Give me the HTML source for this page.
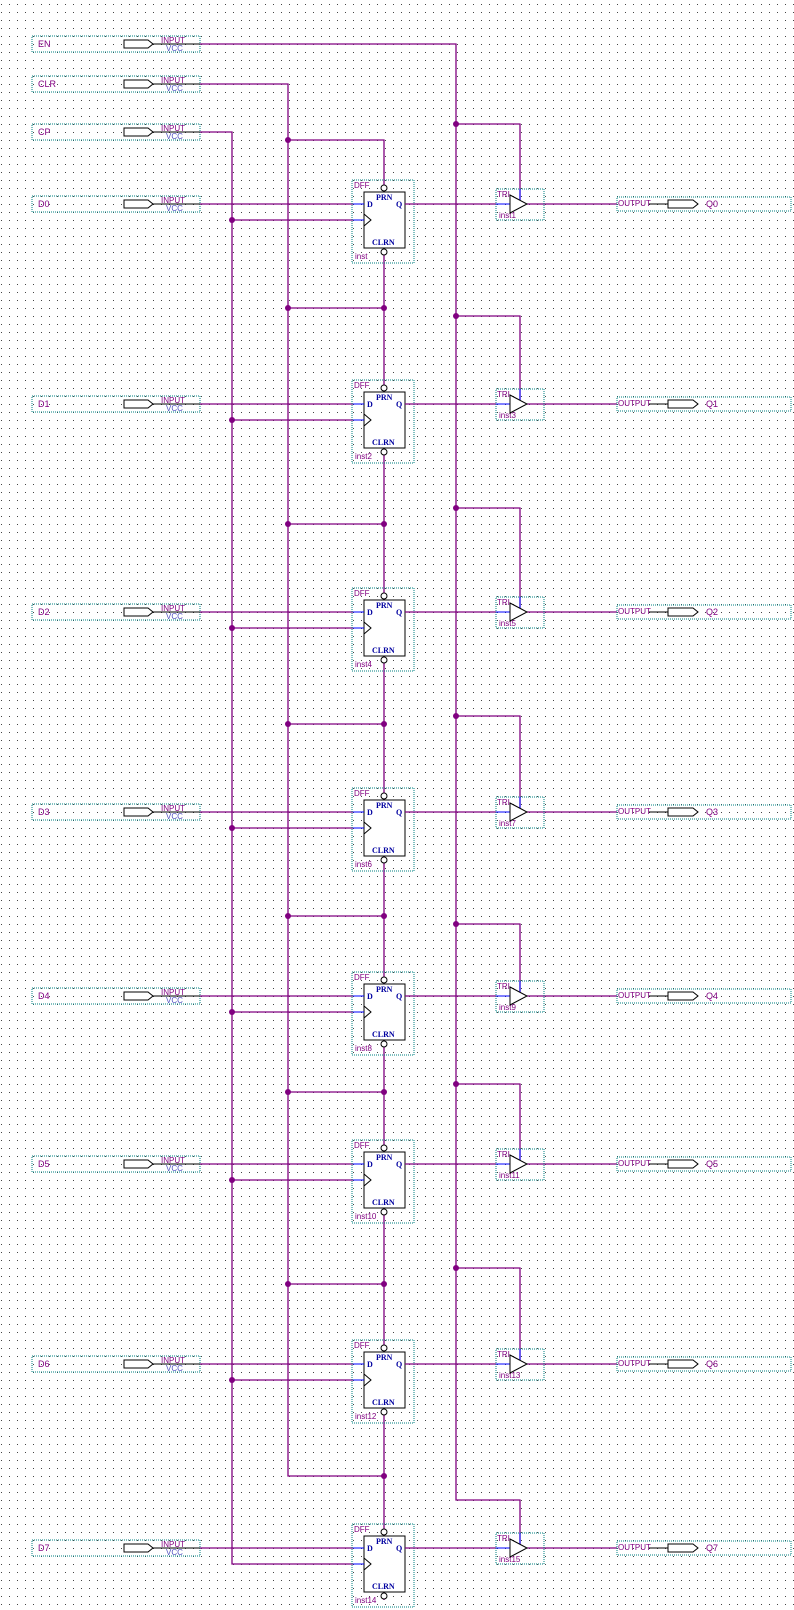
<!DOCTYPE html>
<html><head><meta charset="utf-8"><style>
html,body{margin:0;padding:0;background:#fff}
svg{display:block}
text{font-family:"Liberation Sans",sans-serif;font-size:8px}
.w{stroke:#800080;stroke-width:1.3;fill:none}
.b{stroke:#0000ff;stroke-width:1;fill:none}
.bx{stroke:#008080;stroke-width:1;stroke-dasharray:1,1;fill:none}
.k{stroke:#000;stroke-width:1;fill:#fff}
.p{fill:#800080}
.v{fill:#5050c0}
.lb{fill:#0000a0;font-family:"Liberation Serif",serif;font-weight:bold;font-size:8px}
.nm{fill:#800080;font-size:9px}
</style></head><body>
<svg width="794" height="1610" xmlns="http://www.w3.org/2000/svg">
<defs>
<pattern id="g" x="1" y="4" width="8" height="8" patternUnits="userSpaceOnUse"><rect x="0" y="0" width="1" height="1" fill="#444"/></pattern>
</defs>
<rect width="794" height="1610" fill="#fff"/>
<rect width="794" height="1610" fill="url(#g)"/>

<!-- control inputs -->
<g transform="translate(0,44)"><rect class="bx" x="32" y="-8" width="168" height="16"/><text class="nm" x="38" y="3">EN</text><polygon class="k" points="124,-4 148,-4 153,0 148,4 124,4"/><line x1="153" y1="0" x2="200" y2="0" stroke="#000"/><text class="p" x="161" y="-1">INPUT</text><text class="v" x="166" y="7">VCC</text></g>
<g transform="translate(0,84)"><rect class="bx" x="32" y="-8" width="168" height="16"/><text class="nm" x="38" y="3">CLR</text><polygon class="k" points="124,-4 148,-4 153,0 148,4 124,4"/><line x1="153" y1="0" x2="200" y2="0" stroke="#000"/><text class="p" x="161" y="-1">INPUT</text><text class="v" x="166" y="7">VCC</text></g>
<g transform="translate(0,132)"><rect class="bx" x="32" y="-8" width="168" height="16"/><text class="nm" x="38" y="3">CP</text><polygon class="k" points="124,-4 148,-4 153,0 148,4 124,4"/><line x1="153" y1="0" x2="200" y2="0" stroke="#000"/><text class="p" x="161" y="-1">INPUT</text><text class="v" x="166" y="7">VCC</text></g>

<!-- buses -->
<path class="w" d="M200,44 H456 V1500 H520 V1544"/>
<path class="w" d="M200,84 H288 V1476 H384"/>
<path class="w" d="M200,132 H232 V1564 H353"/>
<path class="w" d="M288,140 H384 V1600"/>
<!-- CLR rungs -->
<path class="w" d="M288,308H384M288,524H384M288,724H384M288,916H384M288,1092H384M288,1284H384"/>
<!-- EN rungs -->
<path class="w" d="M456,124H520V200M456,316H520V400M456,508H520V608M456,716H520V808M456,924H520V992M456,1084H520V1160M456,1268H520V1360"/>
<!-- clock rungs -->
<path class="w" d="M232,220H353M232,420H353M232,628H353M232,828H353M232,1012H353M232,1180H353M232,1380H353"/>
<!-- junctions -->
<g class="p">
<circle cx="288" cy="140" r="3"/>
<circle cx="288" cy="308" r="3"/><circle cx="384" cy="308" r="3"/>
<circle cx="288" cy="524" r="3"/><circle cx="384" cy="524" r="3"/>
<circle cx="288" cy="724" r="3"/><circle cx="384" cy="724" r="3"/>
<circle cx="288" cy="916" r="3"/><circle cx="384" cy="916" r="3"/>
<circle cx="288" cy="1092" r="3"/><circle cx="384" cy="1092" r="3"/>
<circle cx="288" cy="1284" r="3"/><circle cx="384" cy="1284" r="3"/>
<circle cx="384" cy="1476" r="3"/>
<circle cx="456" cy="124" r="3"/><circle cx="456" cy="316" r="3"/><circle cx="456" cy="508" r="3"/><circle cx="456" cy="716" r="3"/><circle cx="456" cy="924" r="3"/><circle cx="456" cy="1084" r="3"/><circle cx="456" cy="1268" r="3"/>
<circle cx="232" cy="220" r="3"/><circle cx="232" cy="420" r="3"/><circle cx="232" cy="628" r="3"/><circle cx="232" cy="828" r="3"/><circle cx="232" cy="1012" r="3"/><circle cx="232" cy="1180" r="3"/><circle cx="232" cy="1380" r="3"/>
</g>

<!-- rows -->
<g transform="translate(0,204)">
<rect class="bx" x="32" y="-8" width="168" height="16"/><text class="nm" x="38" y="3">D0</text><polygon class="k" points="124,-4 148,-4 153,0 148,4 124,4"/><line x1="153" y1="0" x2="200" y2="0" stroke="#000"/><text class="p" x="161" y="-1">INPUT</text><text class="v" x="166" y="7">VCC</text>
<line class="w" x1="200" y1="0" x2="353" y2="0"/>
<rect class="bx" x="352" y="-24" width="62" height="83" fill="#fff"/><text class="p" x="354" y="-16">DFF</text>
<rect class="k" x="364" y="-12" width="41" height="56"/>
<path class="b" d="M353,0H364M353,16H364"/><path d="M364,10L371,16L364,22" stroke="#000" fill="none"/>
<circle class="k" cx="384" cy="-16" r="3"/><circle class="k" cx="384" cy="48" r="3"/>
<text class="lb" x="376" y="-4">PRN</text><text class="lb" x="367" y="3">D</text><text class="lb" x="396" y="3">Q</text><text class="lb" x="372" y="41">CLRN</text><text class="p" x="355" y="55">inst</text>
<path class="w" d="M405,0H496M527,0H617"/>
<rect class="bx" x="496" y="-15" width="48" height="31"/><text class="p" x="497" y="-7">TRI</text><text class="p" x="499" y="14">inst1</text>
<path class="b" d="M496,0H510M520,-15V-4"/><polygon points="510,-9 527,0 510,9" stroke="#000" fill="#fff"/>
<rect class="bx" x="617" y="-7" width="174" height="14"/><text class="p" x="618" y="2">OUTPUT</text><line x1="649" y1="0" x2="668" y2="0" stroke="#000"/><polygon class="k" points="668,-4 693,-4 698,0 693,4 668,4"/><text class="nm" x="706" y="3">Q0</text>
</g>

<g transform="translate(0,404)">
<rect class="bx" x="32" y="-8" width="168" height="16"/><text class="nm" x="38" y="3">D1</text><polygon class="k" points="124,-4 148,-4 153,0 148,4 124,4"/><line x1="153" y1="0" x2="200" y2="0" stroke="#000"/><text class="p" x="161" y="-1">INPUT</text><text class="v" x="166" y="7">VCC</text>
<line class="w" x1="200" y1="0" x2="353" y2="0"/>
<rect class="bx" x="352" y="-24" width="62" height="83" fill="#fff"/><text class="p" x="354" y="-16">DFF</text>
<rect class="k" x="364" y="-12" width="41" height="56"/>
<path class="b" d="M353,0H364M353,16H364"/><path d="M364,10L371,16L364,22" stroke="#000" fill="none"/>
<circle class="k" cx="384" cy="-16" r="3"/><circle class="k" cx="384" cy="48" r="3"/>
<text class="lb" x="376" y="-4">PRN</text><text class="lb" x="367" y="3">D</text><text class="lb" x="396" y="3">Q</text><text class="lb" x="372" y="41">CLRN</text><text class="p" x="355" y="55">inst2</text>
<path class="w" d="M405,0H496M527,0H617"/>
<rect class="bx" x="496" y="-15" width="48" height="31"/><text class="p" x="497" y="-7">TRI</text><text class="p" x="499" y="14">inst3</text>
<path class="b" d="M496,0H510M520,-15V-4"/><polygon points="510,-9 527,0 510,9" stroke="#000" fill="#fff"/>
<rect class="bx" x="617" y="-7" width="174" height="14"/><text class="p" x="618" y="2">OUTPUT</text><line x1="649" y1="0" x2="668" y2="0" stroke="#000"/><polygon class="k" points="668,-4 693,-4 698,0 693,4 668,4"/><text class="nm" x="706" y="3">Q1</text>
</g>

<g transform="translate(0,612)">
<rect class="bx" x="32" y="-8" width="168" height="16"/><text class="nm" x="38" y="3">D2</text><polygon class="k" points="124,-4 148,-4 153,0 148,4 124,4"/><line x1="153" y1="0" x2="200" y2="0" stroke="#000"/><text class="p" x="161" y="-1">INPUT</text><text class="v" x="166" y="7">VCC</text>
<line class="w" x1="200" y1="0" x2="353" y2="0"/>
<rect class="bx" x="352" y="-24" width="62" height="83" fill="#fff"/><text class="p" x="354" y="-16">DFF</text>
<rect class="k" x="364" y="-12" width="41" height="56"/>
<path class="b" d="M353,0H364M353,16H364"/><path d="M364,10L371,16L364,22" stroke="#000" fill="none"/>
<circle class="k" cx="384" cy="-16" r="3"/><circle class="k" cx="384" cy="48" r="3"/>
<text class="lb" x="376" y="-4">PRN</text><text class="lb" x="367" y="3">D</text><text class="lb" x="396" y="3">Q</text><text class="lb" x="372" y="41">CLRN</text><text class="p" x="355" y="55">inst4</text>
<path class="w" d="M405,0H496M527,0H617"/>
<rect class="bx" x="496" y="-15" width="48" height="31"/><text class="p" x="497" y="-7">TRI</text><text class="p" x="499" y="14">inst5</text>
<path class="b" d="M496,0H510M520,-15V-4"/><polygon points="510,-9 527,0 510,9" stroke="#000" fill="#fff"/>
<rect class="bx" x="617" y="-7" width="174" height="14"/><text class="p" x="618" y="2">OUTPUT</text><line x1="649" y1="0" x2="668" y2="0" stroke="#000"/><polygon class="k" points="668,-4 693,-4 698,0 693,4 668,4"/><text class="nm" x="706" y="3">Q2</text>
</g>

<g transform="translate(0,812)">
<rect class="bx" x="32" y="-8" width="168" height="16"/><text class="nm" x="38" y="3">D3</text><polygon class="k" points="124,-4 148,-4 153,0 148,4 124,4"/><line x1="153" y1="0" x2="200" y2="0" stroke="#000"/><text class="p" x="161" y="-1">INPUT</text><text class="v" x="166" y="7">VCC</text>
<line class="w" x1="200" y1="0" x2="353" y2="0"/>
<rect class="bx" x="352" y="-24" width="62" height="83" fill="#fff"/><text class="p" x="354" y="-16">DFF</text>
<rect class="k" x="364" y="-12" width="41" height="56"/>
<path class="b" d="M353,0H364M353,16H364"/><path d="M364,10L371,16L364,22" stroke="#000" fill="none"/>
<circle class="k" cx="384" cy="-16" r="3"/><circle class="k" cx="384" cy="48" r="3"/>
<text class="lb" x="376" y="-4">PRN</text><text class="lb" x="367" y="3">D</text><text class="lb" x="396" y="3">Q</text><text class="lb" x="372" y="41">CLRN</text><text class="p" x="355" y="55">inst6</text>
<path class="w" d="M405,0H496M527,0H617"/>
<rect class="bx" x="496" y="-15" width="48" height="31"/><text class="p" x="497" y="-7">TRI</text><text class="p" x="499" y="14">inst7</text>
<path class="b" d="M496,0H510M520,-15V-4"/><polygon points="510,-9 527,0 510,9" stroke="#000" fill="#fff"/>
<rect class="bx" x="617" y="-7" width="174" height="14"/><text class="p" x="618" y="2">OUTPUT</text><line x1="649" y1="0" x2="668" y2="0" stroke="#000"/><polygon class="k" points="668,-4 693,-4 698,0 693,4 668,4"/><text class="nm" x="706" y="3">Q3</text>
</g>

<g transform="translate(0,996)">
<rect class="bx" x="32" y="-8" width="168" height="16"/><text class="nm" x="38" y="3">D4</text><polygon class="k" points="124,-4 148,-4 153,0 148,4 124,4"/><line x1="153" y1="0" x2="200" y2="0" stroke="#000"/><text class="p" x="161" y="-1">INPUT</text><text class="v" x="166" y="7">VCC</text>
<line class="w" x1="200" y1="0" x2="353" y2="0"/>
<rect class="bx" x="352" y="-24" width="62" height="83" fill="#fff"/><text class="p" x="354" y="-16">DFF</text>
<rect class="k" x="364" y="-12" width="41" height="56"/>
<path class="b" d="M353,0H364M353,16H364"/><path d="M364,10L371,16L364,22" stroke="#000" fill="none"/>
<circle class="k" cx="384" cy="-16" r="3"/><circle class="k" cx="384" cy="48" r="3"/>
<text class="lb" x="376" y="-4">PRN</text><text class="lb" x="367" y="3">D</text><text class="lb" x="396" y="3">Q</text><text class="lb" x="372" y="41">CLRN</text><text class="p" x="355" y="55">inst8</text>
<path class="w" d="M405,0H496M527,0H617"/>
<rect class="bx" x="496" y="-15" width="48" height="31"/><text class="p" x="497" y="-7">TRI</text><text class="p" x="499" y="14">inst9</text>
<path class="b" d="M496,0H510M520,-15V-4"/><polygon points="510,-9 527,0 510,9" stroke="#000" fill="#fff"/>
<rect class="bx" x="617" y="-7" width="174" height="14"/><text class="p" x="618" y="2">OUTPUT</text><line x1="649" y1="0" x2="668" y2="0" stroke="#000"/><polygon class="k" points="668,-4 693,-4 698,0 693,4 668,4"/><text class="nm" x="706" y="3">Q4</text>
</g>

<g transform="translate(0,1164)">
<rect class="bx" x="32" y="-8" width="168" height="16"/><text class="nm" x="38" y="3">D5</text><polygon class="k" points="124,-4 148,-4 153,0 148,4 124,4"/><line x1="153" y1="0" x2="200" y2="0" stroke="#000"/><text class="p" x="161" y="-1">INPUT</text><text class="v" x="166" y="7">VCC</text>
<line class="w" x1="200" y1="0" x2="353" y2="0"/>
<rect class="bx" x="352" y="-24" width="62" height="83" fill="#fff"/><text class="p" x="354" y="-16">DFF</text>
<rect class="k" x="364" y="-12" width="41" height="56"/>
<path class="b" d="M353,0H364M353,16H364"/><path d="M364,10L371,16L364,22" stroke="#000" fill="none"/>
<circle class="k" cx="384" cy="-16" r="3"/><circle class="k" cx="384" cy="48" r="3"/>
<text class="lb" x="376" y="-4">PRN</text><text class="lb" x="367" y="3">D</text><text class="lb" x="396" y="3">Q</text><text class="lb" x="372" y="41">CLRN</text><text class="p" x="355" y="55">inst10</text>
<path class="w" d="M405,0H496M527,0H617"/>
<rect class="bx" x="496" y="-15" width="48" height="31"/><text class="p" x="497" y="-7">TRI</text><text class="p" x="499" y="14">inst11</text>
<path class="b" d="M496,0H510M520,-15V-4"/><polygon points="510,-9 527,0 510,9" stroke="#000" fill="#fff"/>
<rect class="bx" x="617" y="-7" width="174" height="14"/><text class="p" x="618" y="2">OUTPUT</text><line x1="649" y1="0" x2="668" y2="0" stroke="#000"/><polygon class="k" points="668,-4 693,-4 698,0 693,4 668,4"/><text class="nm" x="706" y="3">Q5</text>
</g>

<g transform="translate(0,1364)">
<rect class="bx" x="32" y="-8" width="168" height="16"/><text class="nm" x="38" y="3">D6</text><polygon class="k" points="124,-4 148,-4 153,0 148,4 124,4"/><line x1="153" y1="0" x2="200" y2="0" stroke="#000"/><text class="p" x="161" y="-1">INPUT</text><text class="v" x="166" y="7">VCC</text>
<line class="w" x1="200" y1="0" x2="353" y2="0"/>
<rect class="bx" x="352" y="-24" width="62" height="83" fill="#fff"/><text class="p" x="354" y="-16">DFF</text>
<rect class="k" x="364" y="-12" width="41" height="56"/>
<path class="b" d="M353,0H364M353,16H364"/><path d="M364,10L371,16L364,22" stroke="#000" fill="none"/>
<circle class="k" cx="384" cy="-16" r="3"/><circle class="k" cx="384" cy="48" r="3"/>
<text class="lb" x="376" y="-4">PRN</text><text class="lb" x="367" y="3">D</text><text class="lb" x="396" y="3">Q</text><text class="lb" x="372" y="41">CLRN</text><text class="p" x="355" y="55">inst12</text>
<path class="w" d="M405,0H496M527,0H617"/>
<rect class="bx" x="496" y="-15" width="48" height="31"/><text class="p" x="497" y="-7">TRI</text><text class="p" x="499" y="14">inst13</text>
<path class="b" d="M496,0H510M520,-15V-4"/><polygon points="510,-9 527,0 510,9" stroke="#000" fill="#fff"/>
<rect class="bx" x="617" y="-7" width="174" height="14"/><text class="p" x="618" y="2">OUTPUT</text><line x1="649" y1="0" x2="668" y2="0" stroke="#000"/><polygon class="k" points="668,-4 693,-4 698,0 693,4 668,4"/><text class="nm" x="706" y="3">Q6</text>
</g>

<g transform="translate(0,1548)">
<rect class="bx" x="32" y="-8" width="168" height="16"/><text class="nm" x="38" y="3">D7</text><polygon class="k" points="124,-4 148,-4 153,0 148,4 124,4"/><line x1="153" y1="0" x2="200" y2="0" stroke="#000"/><text class="p" x="161" y="-1">INPUT</text><text class="v" x="166" y="7">VCC</text>
<line class="w" x1="200" y1="0" x2="353" y2="0"/>
<rect class="bx" x="352" y="-24" width="62" height="83" fill="#fff"/><text class="p" x="354" y="-16">DFF</text>
<rect class="k" x="364" y="-12" width="41" height="56"/>
<path class="b" d="M353,0H364M353,16H364"/><path d="M364,10L371,16L364,22" stroke="#000" fill="none"/>
<circle class="k" cx="384" cy="-16" r="3"/><circle class="k" cx="384" cy="48" r="3"/>
<text class="lb" x="376" y="-4">PRN</text><text class="lb" x="367" y="3">D</text><text class="lb" x="396" y="3">Q</text><text class="lb" x="372" y="41">CLRN</text><text class="p" x="355" y="55">inst14</text>
<path class="w" d="M405,0H496M527,0H617"/>
<rect class="bx" x="496" y="-15" width="48" height="31"/><text class="p" x="497" y="-7">TRI</text><text class="p" x="499" y="14">inst15</text>
<path class="b" d="M496,0H510M520,-15V-4"/><polygon points="510,-9 527,0 510,9" stroke="#000" fill="#fff"/>
<rect class="bx" x="617" y="-7" width="174" height="14"/><text class="p" x="618" y="2">OUTPUT</text><line x1="649" y1="0" x2="668" y2="0" stroke="#000"/><polygon class="k" points="668,-4 693,-4 698,0 693,4 668,4"/><text class="nm" x="706" y="3">Q7</text>
</g>
</svg>
</body></html>
